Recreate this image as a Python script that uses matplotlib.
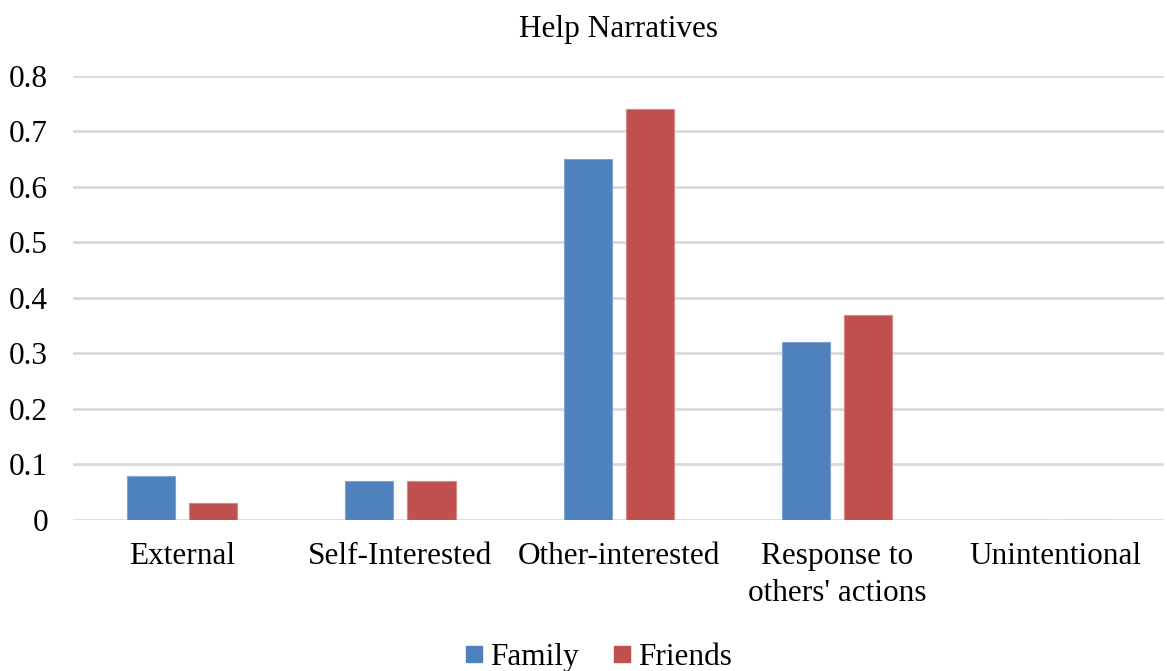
import numpy as np
import matplotlib.pyplot as plt
from matplotlib.lines import Line2D

plt.rcParams['font.family'] = ['Liberation Serif', 'DejaVu Serif']

categories = ["External", "Self-Interested", "Other-interested",
              "Response to\nothers' actions", "Unintentional"]
family = [0.08, 0.07, 0.65, 0.32, 0.0]
friends = [0.03, 0.07, 0.74, 0.37, 0.0]

BLUE = "#4F81BD"
RED = "#C0504D"
FS = 22.5

fig = plt.figure(figsize=(11.67, 6.71), dpi=100)
ax = fig.add_axes([0.0626, 0.225, 0.935, 0.662])

x = np.arange(len(categories))
w = 0.22
gap = 0.065
ax.bar(x - (w + gap) / 2, family, w, color=BLUE, edgecolor="#7FA3D3",
       linewidth=0.8, zorder=3, label="Family")
ax.bar(x + (w + gap) / 2, friends, w, color=RED, edgecolor="#D88785",
       linewidth=0.8, zorder=3, label="Friends")

ax.set_xlim(-0.5, len(categories) - 0.5)
ax.set_ylim(0, 0.8)
ax.set_yticks(np.arange(0, 0.81, 0.1))
ax.set_yticklabels(["0"] + [f"{v:.1f}" for v in np.arange(0.1, 0.81, 0.1)])
ax.yaxis.grid(True, color="#D9D9D9", linewidth=2, zorder=0)
ax.set_axisbelow(True)
for s in ax.spines.values():
    s.set_visible(False)
ax.tick_params(axis="both", length=0, labelsize=FS)
ax.tick_params(axis="y", pad=18)
ax.tick_params(axis="x", pad=16)
ax.set_xticks(x)
ax.set_xticklabels(categories, linespacing=1.35)

ax.set_title("Help Narratives", fontsize=FS, pad=28)

handles = [Line2D([], [], marker="s", linestyle="none", markersize=11,
                  markerfacecolor=BLUE, markeredgecolor=BLUE),
           Line2D([], [], marker="s", linestyle="none", markersize=11,
                  markerfacecolor=RED, markeredgecolor=RED)]
fig.legend(handles, ["Family", "Friends"], loc="center",
           bbox_to_anchor=(0.51, 0.02), ncol=2, frameon=False,
           fontsize=FS, handletextpad=0.0, columnspacing=0.9,
           handlelength=1.0, borderpad=0)

fig.savefig("out.png", dpi=100)
